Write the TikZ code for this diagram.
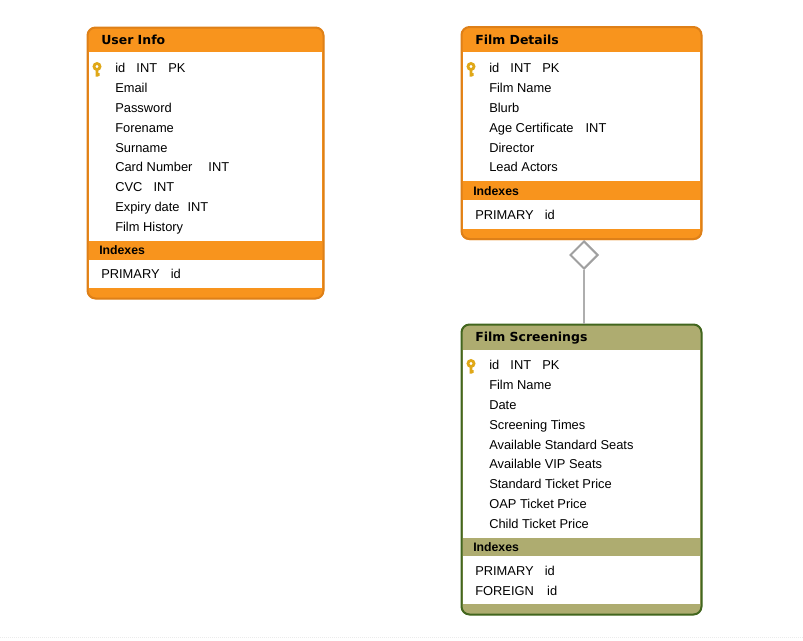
\documentclass[tikz,border=0pt]{standalone}
\usepackage{fontspec}
\setmainfont{Liberation Sans}
\newfontfamily\headfont{DejaVu Sans}
\definecolor{myorange}{RGB}{248,148,29}
\definecolor{myorangeline}{RGB}{222,128,24}
\definecolor{myolive}{RGB}{174,172,112}
\definecolor{mygreenline}{RGB}{66,102,30}
\definecolor{mykey}{RGB}{224,168,24}
\definecolor{mygrey}{RGB}{160,160,160}
\usetikzlibrary{shapes.geometric,positioning}
\newcommand{\gap}{\hspace{8.4pt}}

\begin{document}
\begin{tikzpicture}[x=0.75pt,y=-0.75pt,
    row/.style={anchor=west,inner sep=0pt,text height=7pt,text depth=0.2pt,font=\fontsize{9.65pt}{11pt}\selectfont},
    headtext/.style={anchor=west,inner sep=0pt,text height=7.5pt,text depth=0pt,font=\headfont\bfseries\fontsize{9.35pt}{11pt}\selectfont},
    indextext/.style={anchor=west,inner sep=0pt,text height=6pt,text depth=0pt,font=\bfseries\fontsize{9.2pt}{10pt}\selectfont},
    keyicon/.style={mykey,line width=2.1pt}
    ]
    \useasboundingbox (0,0) rectangle (803,640);

    % user info
    \fill[myorange,rounded corners=6pt] (87,27) rectangle (324,299);
    \fill[white] (89,52) rectangle (322,241);
    \fill[white] (89,260) rectangle (322,288);
    \node (userframe) [draw=myorangeline,line width=1.5pt,rounded corners=6pt,inner sep=0pt,minimum width=177pt,minimum height=203.25pt] at (205.5,163) {};
    \node (usertitle) [headtext] at (101,39.5) {User Info};
    \draw[keyicon] (97,66.5) circle (3) (97,70) -- (97,76.5) (97,74.5) -- (99.5,74.5);
    \node (u1) [row] at (115,67.5) {id\gap INT\gap PK};
    \node (u2) [row] at (115,87.5) {Email};
    \node (u3) [row] at (115,107.5) {Password};
    \node (u4) [row] at (115,127.5) {Forename};
    \node (u5) [row] at (115,147.5) {Surname};
    \node (u6) [row] at (115,166.5) {Card Number\hspace{12pt}INT};
    \node (u7) [row] at (115,186.5) {CVC\gap INT};
    \node (u8) [row] at (115,206.5) {Expiry date\hspace{6pt}INT};
    \node (u9) [row] at (115,226.5) {Film History};
    \node (uindex) [indextext] at (99,250) {Indexes};
    \node (uprimary) [row] at (101,273.5) {PRIMARY\gap id};

    % film details
    \fill[myorange,rounded corners=6pt] (461,27) rectangle (702,240);
    \fill[white] (463,52) rectangle (700,181);
    \fill[white] (463,200) rectangle (700,229);
    \node (filmframe) [draw=myorangeline,line width=1.5pt,rounded corners=6pt,inner sep=0pt,minimum width=180pt,minimum height=159pt] at (581.5,133) {};
    \node (filmtitle) [headtext] at (475,39.5) {Film Details};
    \draw[keyicon] (471,66.5) circle (3) (471,70) -- (471,76.5) (471,74.5) -- (473.5,74.5);
    \node (f1) [row] at (489,67.5) {id\gap INT\gap PK};
    \node (f2) [row] at (489,87.5) {Film Name};
    \node (f3) [row] at (489,107.5) {Blurb};
    \node (f4) [row] at (489,127.5) {Age Certificate\hspace{9pt}INT};
    \node (f5) [row] at (489,147.5) {Director};
    \node (f6) [row] at (489,166.5) {Lead Actors};
    \node (findex) [indextext] at (473,191) {Indexes};
    \node (fprimary) [row] at (475,214.5) {PRIMARY\gap id};

    % film screenings
    \fill[myolive,rounded corners=6pt] (461,324) rectangle (702,615);
    \fill[white] (463,350) rectangle (700,538);
    \fill[white] (463,556) rectangle (700,604);
    \node (screenframe) [draw=mygreenline,line width=1.5pt,rounded corners=6pt,inner sep=0pt,minimum width=180pt,minimum height=217.5pt] at (581.5,469.5) {};
    \node (screentitle) [headtext] at (475,336.5) {Film Screenings};
    \draw[keyicon] (471,363.5) circle (3) (471,367) -- (471,373.5) (471,371.5) -- (473.5,371.5);
    \node (s1) [row] at (489,364.5) {id\gap INT\gap PK};
    \node (s2) [row] at (489,384.5) {Film Name};
    \node (s3) [row] at (489,404.5) {Date};
    \node (s4) [row] at (489,424.5) {Screening Times};
    \node (s5) [row] at (489,444.5) {Available Standard Seats};
    \node (s6) [row] at (489,463.5) {Available VIP Seats};
    \node (s7) [row] at (489,483.5) {Standard Ticket Price};
    \node (s8) [row] at (489,503.5) {OAP Ticket Price};
    \node (s9) [row] at (489,523.5) {Child Ticket Price};
    \node (sindex) [indextext] at (473,547) {Indexes};
    \node (sprimary) [row] at (475,570.5) {PRIMARY\gap id};
    \node (sforeign) [row] at (475,590.5) {FOREIGN\hspace{10pt}id};

    % the relation
    \node (link) [draw=mygrey,fill=white,diamond,line width=1.5pt,inner sep=0pt,minimum width=21pt,minimum height=21pt] at (584,255) {};
    \draw[mygrey!85,line width=1.9pt] (link.south) -- (link.south |- screenframe.north);

    % faint page edge
    \draw[black!8,densely dotted,line width=0.5pt] (0,637.5) -- (803,637.5);
\end{tikzpicture}
\end{document}
